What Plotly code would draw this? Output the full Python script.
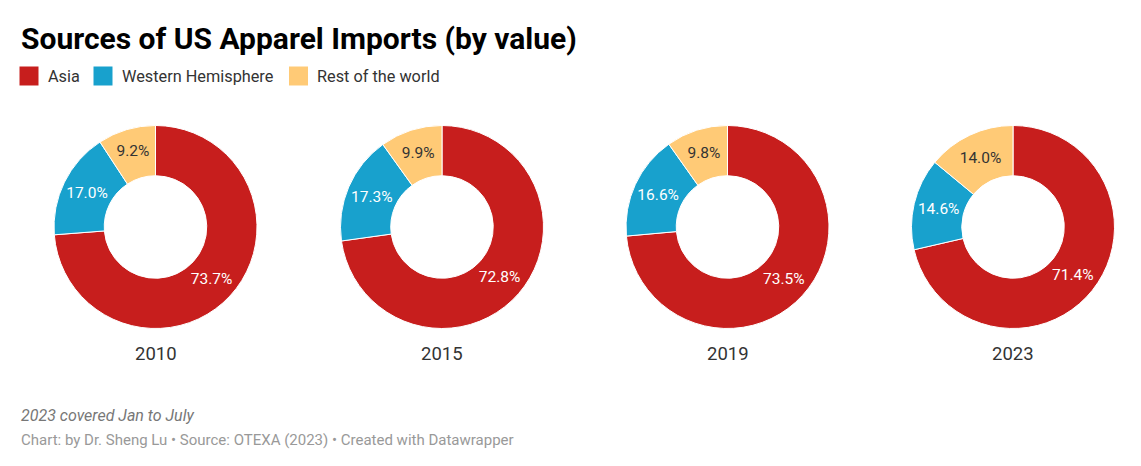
import plotly.graph_objects as go

years = ["2010", "2015", "2019", "2023"]
regions = ["Asia", "Western Hemisphere", "Rest of the world"]
asia = [73.7, 72.8, 73.5, 71.4]
western = [17.0, 17.3, 16.6, 14.6]
rest = [9.2, 9.9, 9.8, 14.0]
colors = ["#c71e1d", "#18a1cd", "#ffca76"]
label_colors = ["#ffffff", "#ffffff", "#333333"]

OFF = 8  # default page body margin
W, H = 1141 - OFF, 466 - OFF


def px(x):
    return (x - OFF) / W


def py(y):
    return (H - (y - OFF)) / H


centers_x = [155.5, 442, 727.5, 1013]
cy = 227
R = 101.5
FONT = "Roboto"

fig = go.Figure()
for i, yr in enumerate(years):
    vals = [asia[i], western[i], rest[i]]
    cx = centers_x[i]
    fig.add_trace(go.Pie(
        labels=regions, values=vals, sort=False, direction="clockwise", rotation=0,
        hole=0.505,
        marker=dict(colors=colors, line=dict(color="white", width=1)),
        texttemplate=["%.1f%%" % v for v in vals],
        textinfo="text", textposition="inside", insidetextorientation="horizontal",
        insidetextfont=dict(color=label_colors, size=15.5, family=FONT),
        domain=dict(x=[px(cx - R), px(cx + R)], y=[py(cy + R), py(cy - R)]),
        showlegend=False, hoverinfo="label+value",
    ))
    fig.add_annotation(x=px(cx), y=py(354), xref="paper", yref="paper",
                       text=yr, showarrow=False, font=dict(size=18.5, color="#333333", family=FONT),
                       xanchor="center", yanchor="middle")

# title
fig.add_annotation(x=px(19), y=py(38), xref="paper", yref="paper", xanchor="left", yanchor="middle",
                   text="<b>Sources of US Apparel Imports (by value)</b>", showarrow=False,
                   font=dict(size=30, color="#000000", family=FONT))

# legend
sq_x = [19.5, 93.5, 289]
for j, name in enumerate(regions):
    x0 = sq_x[j]
    fig.add_shape(type="rect", xref="paper", yref="paper",
                  x0=px(x0), x1=px(x0 + 19), y0=py(85.5), y1=py(66.5),
                  fillcolor=colors[j], line=dict(width=0))
    fig.add_annotation(x=px(x0 + 26), y=py(76), xref="paper", yref="paper",
                       xanchor="left", yanchor="middle", text=name, showarrow=False,
                       font=dict(size=16.3, color="#333333", family=FONT))

fig.add_annotation(x=px(19), y=py(415), xref="paper", yref="paper", xanchor="left", yanchor="middle",
                   text="<i>2023 covered Jan to July</i>", showarrow=False,
                   font=dict(size=16, color="#777777", family=FONT))
fig.add_annotation(x=px(19), y=py(440), xref="paper", yref="paper", xanchor="left", yanchor="middle",
                   text="Chart: by Dr. Sheng Lu • Source: OTEXA (2023) • Created with Datawrapper", showarrow=False,
                   font=dict(size=15, color="#999999", family=FONT))

fig.update_layout(width=W, height=H, margin=dict(l=0, r=0, t=0, b=0),
                  paper_bgcolor="white", plot_bgcolor="white", showlegend=False)
fig.write_html("out.html")
